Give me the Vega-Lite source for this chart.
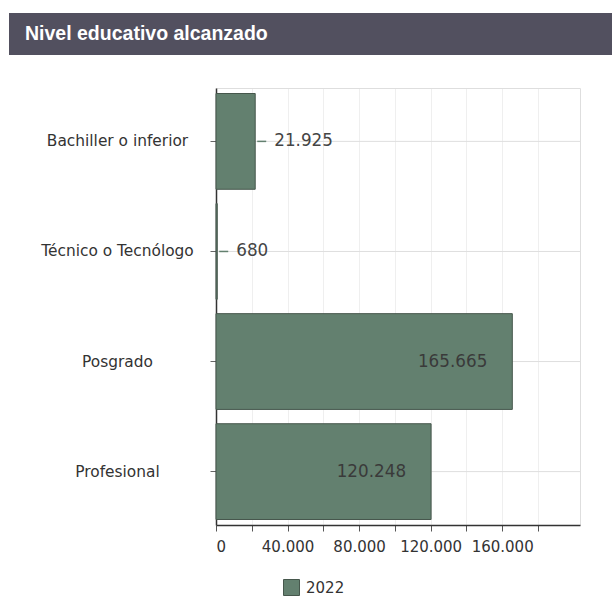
{
  "$schema": "https://vega.github.io/schema/vega-lite/v6.json",
  "padding": {"left": 9, "top": 13, "right": 0, "bottom": 0},
  "background": "white",
  "spacing": 33,
  "columns": 1,
  "align": "none",
  "bounds": "full",
  "config": {
    "locale": {"number": {"decimal": ",", "thousands": ".", "grouping": [3], "currency": ["$", ""]}},
    "font": "DejaVu Sans"
  },
  "concat": [
    {
      "width": 603,
      "height": 42,
      "view": {"fill": "#52505f", "stroke": null},
      "data": {"values": [{"t": "Nivel educativo alcanzado"}]},
      "title": {
        "text": "Nivel educativo alcanzado",
        "anchor": "start",
        "frame": "group",
        "orient": "top",
        "offset": -46,
        "dx": 16,
        "baseline": "alphabetic",
        "color": "white",
        "font": "Liberation Sans",
        "fontSize": 19.5,
        "fontWeight": "bold"
      },
      "mark": {"type": "text", "opacity": 0},
      "encoding": {"text": {"field": "t"}}
    },
    {
      "width": 571,
      "height": 437,
      "view": {"stroke": null},
      "data": {
        "values": [
          {"nivel": "Bachiller o inferior", "valor": 21925, "anio": "2022"},
          {"nivel": "Técnico o Tecnólogo", "valor": 680, "anio": "2022"},
          {"nivel": "Posgrado", "valor": 165665, "anio": "2022"},
          {"nivel": "Profesional", "valor": 120248, "anio": "2022"}
        ]
      },
      "resolve": {"scale": {"x": "shared"}, "axis": {"x": "independent"}},
      "encoding": {
        "y": {
          "field": "nivel",
          "type": "nominal",
          "sort": null,
          "scale": {"paddingInner": 0.13, "paddingOuter": 0.05},
          "axis": {
            "title": null,
            "offset": -207,
            "labelAlign": "center",
            "labelPadding": 93,
            "labelFontSize": 15.4,
            "labelColor": "#333333",
            "labelFont": "DejaVu Sans",
            "tickSize": 6,
            "tickColor": "#666666",
            "domainColor": "#333333",
            "domainWidth": 1.5,
            "grid": false
          }
        }
      },
      "layer": [
        {
          "mark": {"type": "rule", "color": "#dedede", "strokeWidth": 1},
          "encoding": {
            "x": {
              "datum": 0,
              "type": "quantitative",
              "scale": {"domain": [0, 203500], "nice": false, "range": [207, 571]},
              "axis": {
                "orient": "top",
                "title": null,
                "labels": false,
                "ticks": false,
                "domain": true,
                "domainColor": "#dedede",
                "domainWidth": 1,
                "values": [40000, 80000, 120000, 160000, 203500],
                "grid": true,
                "gridColor": "#dedede"
              }
            },
            "x2": {"datum": 203500}
          }
        },
        {
          "mark": {"type": "bar", "stroke": "#46574c", "strokeWidth": 1},
          "encoding": {
            "x": {
              "field": "valor",
              "type": "quantitative",
              "axis": {
                "orient": "bottom",
                "title": null,
                "values": [0, 20000, 40000, 60000, 80000, 100000, 120000, 140000, 160000, 180000],
                "format": ",.0f",
                "labelExpr": "datum.value % 40000 == 0 ? datum.label : ''",
                "labelFontSize": 15,
                "labelColor": "#333333",
                "labelFont": "DejaVu Sans",
                "labelPadding": 8,
                "tickSize": 6,
                "tickColor": "#555555",
                "domainColor": "#333333",
                "domainWidth": 1.5,
                "grid": true,
                "gridColor": "#efefef"
              }
            },
            "color": {
              "field": "anio",
              "type": "nominal",
              "scale": {"range": ["#63806f"]},
              "legend": {
                "title": null,
                "orient": "none",
                "legendX": 274,
                "legendY": 566,
                "padding": 0,
                "symbolType": "square",
                "symbolSize": 256,
                "symbolStrokeColor": "#46574c",
                "symbolStrokeWidth": 1,
                "labelFontSize": 15,
                "labelColor": "#333333",
                "labelFont": "DejaVu Sans",
                "labelOffset": 6
              }
            }
          }
        },
        {
          "transform": [{"filter": "datum.valor < 30000"}],
          "mark": {"type": "rule", "xOffset": 2, "x2Offset": 11, "color": "#63806f", "strokeWidth": 1.5},
          "encoding": {
            "x": {"field": "valor", "type": "quantitative", "axis": null},
            "x2": {"field": "valor"}
          }
        },
        {
          "transform": [{"filter": "datum.valor < 30000"}],
          "mark": {"type": "text", "align": "left", "baseline": "middle", "dx": 19, "fontSize": 16.8, "color": "#444444", "font": "DejaVu Sans"},
          "encoding": {
            "x": {"field": "valor", "type": "quantitative", "axis": null},
            "text": {"field": "valor", "type": "quantitative", "format": ",.0f"}
          }
        },
        {
          "transform": [{"filter": "datum.valor >= 30000"}],
          "mark": {"type": "text", "align": "right", "baseline": "middle", "dx": -25, "fontSize": 16.8, "color": "#3a3a3a", "font": "DejaVu Sans"},
          "encoding": {
            "x": {"field": "valor", "type": "quantitative", "axis": null},
            "text": {"field": "valor", "type": "quantitative", "format": ",.0f"}
          }
        }
      ]
    }
  ]
}
